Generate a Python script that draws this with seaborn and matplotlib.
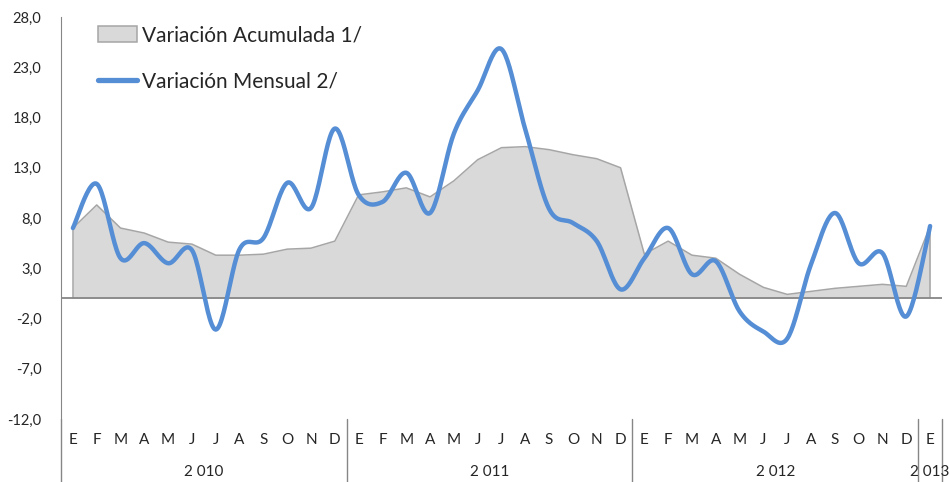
import numpy as np
import pandas as pd
import matplotlib
matplotlib.use('Agg')
import matplotlib.pyplot as plt
from matplotlib.patches import Patch
from matplotlib.lines import Line2D
import seaborn as sns

# Data
months = ['E', 'F', 'M', 'A', 'M', 'J', 'J', 'A', 'S', 'O', 'N', 'D'] * 3 + ['E']
years = ['2 010', '2 011', '2 012', '2 013']
acumulada = [7.0, 9.3, 7.0, 6.5, 5.6, 5.4, 4.3, 4.3, 4.4, 4.9, 5.0, 5.7,
             10.3, 10.6, 11.0, 10.1, 11.7, 13.8, 15.0, 15.1, 14.8, 14.3, 13.9, 13.0,
             4.4, 5.7, 4.3, 4.0, 2.4, 1.1, 0.4, 0.7, 1.0, 1.2, 1.4, 1.2,
             7.2]
mensual = [7.0, 11.4, 4.0, 5.5, 3.5, 4.8, -3.1, 4.9, 6.0, 11.5, 9.0, 16.9,
           10.3, 9.6, 12.5, 8.5, 16.4, 20.7, 24.8, 16.8, 8.9, 7.5, 5.7, 0.9,
           4.0, 7.0, 2.4, 3.7, -1.3, -3.3, -4.0, 3.4, 8.5, 3.5, 4.5, -1.8,
           7.2]
yticks = [-12, -7, -2, 3, 8, 13, 18, 23, 28]

df = pd.DataFrame({'idx': np.arange(len(months)), 'mes': months,
                   'acumulada': acumulada, 'mensual': mensual})


def smooth_curve(x, y, n=24):
    # Catmull-Rom style smoothing, like a spreadsheet "smoothed line"
    x = np.asarray(x, float)
    y = np.asarray(y, float)
    px = np.concatenate([[x[0]], x, [x[-1]]])
    py = np.concatenate([[y[0]], y, [y[-1]]])
    xs, ys = [], []
    t = np.linspace(0, 1, n, endpoint=False)
    for i in range(1, len(px) - 2):
        for arr, out in ((px, xs), (py, ys)):
            p0, p1, p2, p3 = arr[i - 1], arr[i], arr[i + 1], arr[i + 2]
            out.extend(0.5 * (2 * p1 + (-p0 + p2) * t
                              + (2 * p0 - 5 * p1 + 4 * p2 - p3) * t ** 2
                              + (-p0 + 3 * p1 - 3 * p2 + p3) * t ** 3))
    xs.append(x[-1])
    ys.append(y[-1])
    return pd.DataFrame({'x': xs, 'y': ys})


sns.set_style('white')
plt.rcParams['font.family'] = ['Lato', 'DejaVu Sans']

fig = plt.figure(figsize=(9.49, 4.82), dpi=100)
ax = fig.add_axes([61 / 949, 63 / 482, 881 / 949, 402 / 482])

gray_edge = '#a6a6a6'
blue = '#558ed5'

# area series
ax.fill_between(df['idx'], 0, df['acumulada'], color='#d9d9d9', lw=0, zorder=1)
sns.lineplot(x='idx', y='acumulada', data=df, ax=ax, color=gray_edge, lw=1.1, zorder=2)
ax.plot([df['idx'].iloc[0]] * 2, [0, acumulada[0]], color=gray_edge, lw=1.1, zorder=2)
ax.plot([df['idx'].iloc[-1]] * 2, [0, acumulada[-1]], color=gray_edge, lw=1.1, zorder=2)

# smoothed monthly line
sm = smooth_curve(df['idx'], df['mensual'])
sns.lineplot(x='x', y='y', data=sm, ax=ax, color=blue, lw=3.2, sort=False,
             zorder=4, solid_capstyle='round')

ax.axhline(0, color='#868686', lw=1.3, zorder=3)

ax.set_xlim(-0.5, len(months) - 0.5)
ax.set_ylim(-12, 28)
ax.set_yticks(yticks)
ax.set_yticklabels([f'{v:.1f}'.replace('.', ',') for v in yticks], fontsize=10.5)
ax.tick_params(axis='y', length=0, pad=14)
ax.set_xticks([])
ax.set_xlabel('')
ax.set_ylabel('')
for s in ['top', 'right', 'bottom']:
    ax.spines[s].set_visible(False)
ax.spines['left'].set_color('#868686')
ax.spines['left'].set_bounds(-12, 28)

# category labels: months and years
tr = ax.get_xaxis_transform()
for i, m in enumerate(months):
    ax.text(i, -0.052, m, transform=tr, ha='center', va='center', fontsize=11)
year_centers = [5.5, 17.5, 29.5, 36]
for yc, yl in zip(year_centers, years):
    ax.text(yc, -0.132, yl, transform=tr, ha='center', va='center', fontsize=11)
for xs in [-0.5, 11.5, 23.5, 35.5, 36.5]:
    ax.plot([xs, xs], [-0.157, 0], transform=tr, color='#868686', lw=1, clip_on=False)

handles = [Patch(facecolor='#d9d9d9', edgecolor=gray_edge, lw=1.1),
           Line2D([0], [0], color=blue, lw=3.8)]
ax.legend(handles, ['Variación Acumulada 1/', 'Variación Mensual 2/'],
          loc='upper left', bbox_to_anchor=(0.032, 1.0), frameon=False,
          fontsize=15, handlelength=1.9, handleheight=0.75, handletextpad=0.25,
          labelspacing=1.25, borderaxespad=0)

fig.savefig('out.png', dpi=100)
